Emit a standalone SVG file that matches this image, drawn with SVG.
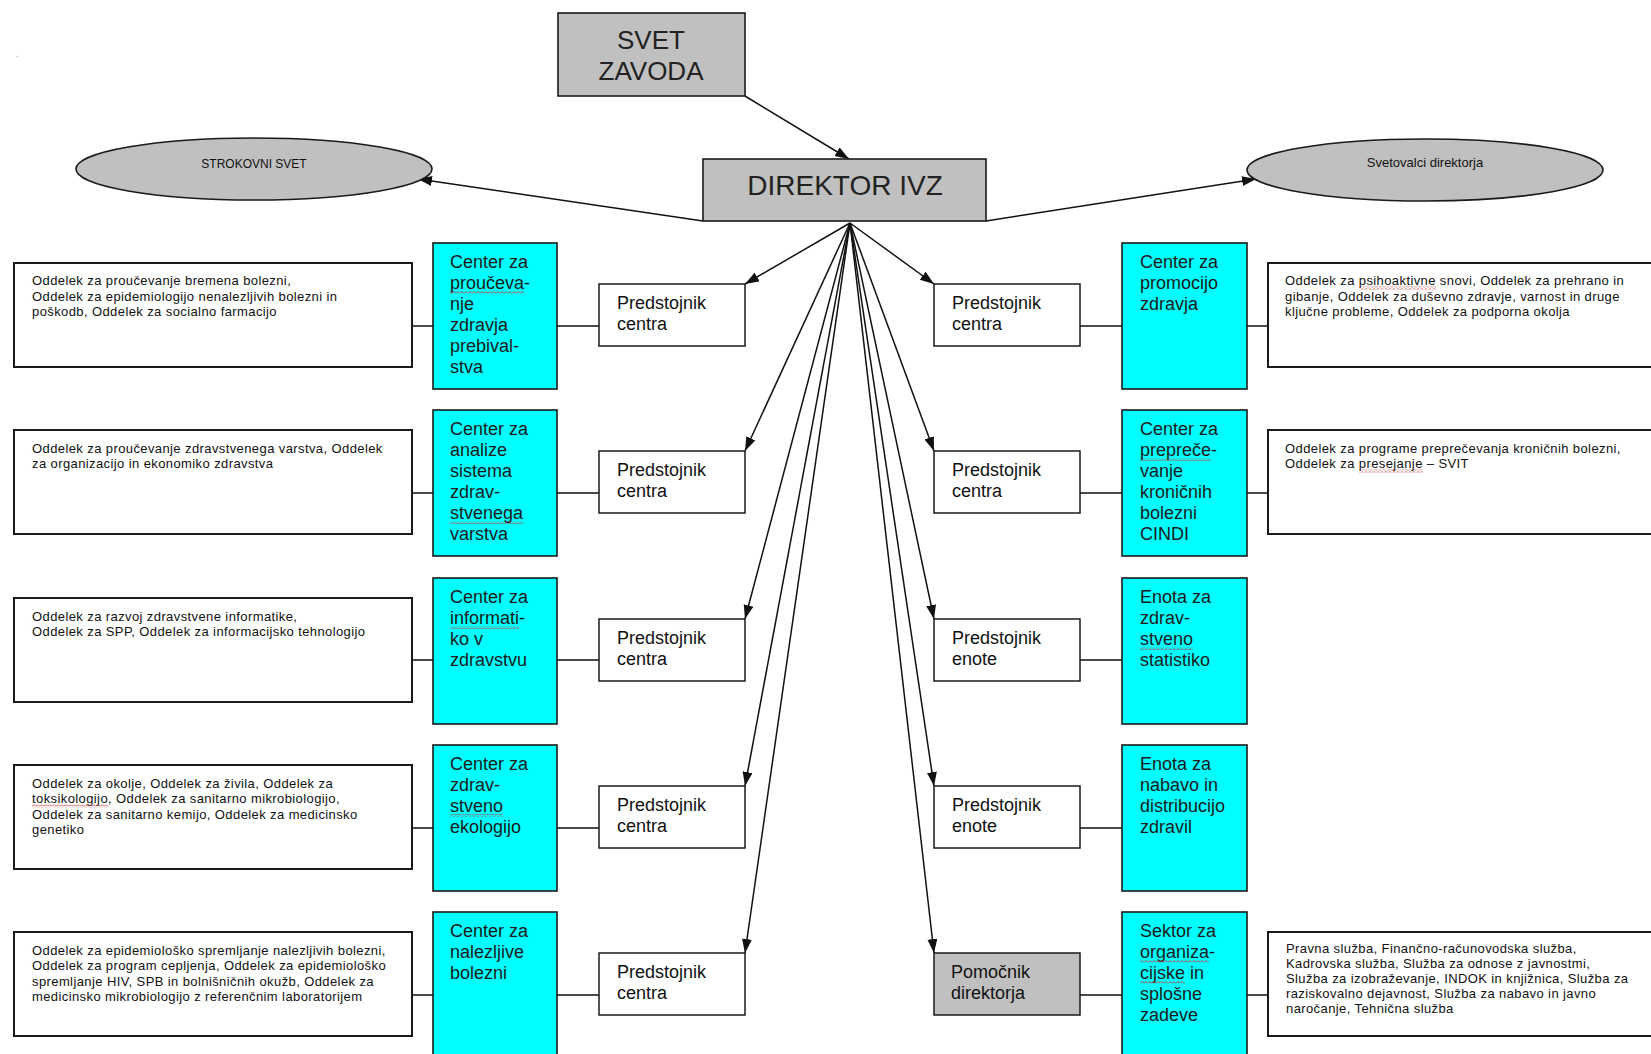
<svg xmlns="http://www.w3.org/2000/svg" width="1651" height="1054" viewBox="0 0 1651 1054">
<style>
  text { font-family: "Liberation Sans", Arial, sans-serif; }
  .gray { fill: #c0c0c0; stroke: #1a1a1a; stroke-width: 1.6; }
  .cyan { fill: #00ffff; stroke: #1a1a1a; stroke-width: 1.6; }
  .pbox { fill: #ffffff; stroke: #1a1a1a; stroke-width: 1.5; }
  .tbox { fill: #ffffff; stroke: #1a1a1a; stroke-width: 2; }
  .ct { font-size: 18px; fill: #1a1a1a; }
  .pt { font-size: 18px; fill: #111111; }
  .st { font-size: 13px; fill: #111111; letter-spacing: 0.4px; }
  .conn { stroke: #111111; stroke-width: 1.5; fill: none; }
  .arrow { stroke: #111111; stroke-width: 1.5; fill: none; marker-end: url(#ah); }
</style>
<defs>
  <marker id="ah" markerUnits="userSpaceOnUse" markerWidth="14" markerHeight="12" refX="14" refY="5" orient="auto">
    <path d="M0,0 L14,5 L0,10 z" fill="#111111"/>
  </marker>
  <pattern id="squig" patternUnits="userSpaceOnUse" width="4" height="3">
    <path d="M0,2.5 L2,0.5 L4,2.5" stroke="#d03030" stroke-width="0.9" fill="none"/>
  </pattern>
</defs>
<rect width="1651" height="1054" fill="#ffffff"/>
<text x="16" y="57" style="font-size:10px;fill:#999999">.</text>

<g id="connectors">
  <line class="arrow" x1="745" y1="96" x2="849" y2="159"/>
  <line class="arrow" x1="703" y1="221" x2="418" y2="179"/>
  <line class="arrow" x1="986" y1="221" x2="1256" y2="179"/>
  <line class="arrow" x1="850" y1="223" x2="745" y2="284"/>
  <line class="arrow" x1="850" y1="223" x2="745" y2="451"/>
  <line class="arrow" x1="850" y1="223" x2="745" y2="619"/>
  <line class="arrow" x1="850" y1="223" x2="745" y2="786"/>
  <line class="arrow" x1="850" y1="223" x2="745" y2="953"/>
  <line class="arrow" x1="850" y1="223" x2="934" y2="284"/>
  <line class="arrow" x1="850" y1="223" x2="934" y2="451"/>
  <line class="arrow" x1="850" y1="223" x2="934" y2="619"/>
  <line class="arrow" x1="850" y1="223" x2="934" y2="786"/>
  <line class="arrow" x1="850" y1="223" x2="934" y2="953"/>
  <path class="conn" d="M412,326 H433 M557,326 H599 M412,493 H433 M557,493 H599 M412,660 H433 M557,660 H599 M412,828 H433 M557,828 H599 M412,995 H433 M557,995 H599"/>
  <path class="conn" d="M1080,326 H1122 M1247,326 H1268 M1080,493 H1122 M1247,493 H1268 M1080,660 H1122 M1080,828 H1122 M1080,995 H1122 M1247,995 H1268"/>
</g>

<g id="svet-zavoda">
  <rect class="gray" x="558" y="13" width="187" height="83"/>
  <text x="651" y="49" text-anchor="middle" style="font-size:26px;fill:#222">SVET</text>
  <text x="651" y="80" text-anchor="middle" style="font-size:26px;fill:#222">ZAVODA</text>
</g>
<g id="direktor">
  <rect class="gray" x="703" y="159" width="283" height="62"/>
  <text x="845" y="195" text-anchor="middle" style="font-size:28px;fill:#222">DIREKTOR IVZ</text>
</g>
<g id="strokovni-svet">
  <ellipse class="gray" cx="254" cy="169" rx="178" ry="31"/>
  <text x="254" y="168" text-anchor="middle" style="font-size:12px;fill:#111">STROKOVNI SVET</text>
</g>
<g id="svetovalci">
  <ellipse class="gray" cx="1425" cy="170" rx="178" ry="31"/>
  <text x="1425" y="167" text-anchor="middle" style="font-size:13px;fill:#111">Svetovalci direktorja</text>
</g>

<!-- Left column -->
<g id="l1-oddelki">
  <rect class="tbox" x="14" y="263" width="398" height="104"/>
  <text class="st" x="32" y="285">Oddelek za proučevanje bremena bolezni,</text>
  <text class="st" x="32" y="300.5">Oddelek za epidemiologijo nenalezljivih bolezni in</text>
  <text class="st" x="32" y="316">poškodb, Oddelek za socialno farmacijo</text>
</g>
<g id="l1-center">
  <rect class="cyan" x="433" y="243" width="124" height="146"/>
  <text class="ct" x="450" y="268">Center za</text>
  <text class="ct" x="450" y="289">proučeva-</text>
  <text class="ct" x="450" y="310">nje</text>
  <text class="ct" x="450" y="331">zdravja</text>
  <text class="ct" x="450" y="352">prebival-</text>
  <text class="ct" x="450" y="373">stva</text>
</g>
<g id="l1-predstojnik">
  <rect class="pbox" x="599" y="284" width="146" height="62"/>
  <text class="pt" x="617" y="309">Predstojnik</text>
  <text class="pt" x="617" y="330">centra</text>
</g>

<g id="l2-oddelki">
  <rect class="tbox" x="14" y="430" width="398" height="104"/>
  <text class="st" x="32" y="452.5">Oddelek za proučevanje zdravstvenega varstva, Oddelek</text>
  <text class="st" x="32" y="468">za organizacijo in ekonomiko zdravstva</text>
</g>
<g id="l2-center">
  <rect class="cyan" x="433" y="410" width="124" height="146"/>
  <text class="ct" x="450" y="435">Center za</text>
  <text class="ct" x="450" y="456">analize</text>
  <text class="ct" x="450" y="477">sistema</text>
  <text class="ct" x="450" y="498">zdrav-</text>
  <text class="ct" x="450" y="519">stvenega</text>
  <text class="ct" x="450" y="540">varstva</text>
</g>
<g id="l2-predstojnik">
  <rect class="pbox" x="599" y="451" width="146" height="62"/>
  <text class="pt" x="617" y="476">Predstojnik</text>
  <text class="pt" x="617" y="497">centra</text>
</g>

<g id="l3-oddelki">
  <rect class="tbox" x="14" y="598" width="398" height="104"/>
  <text class="st" x="32" y="620.5">Oddelek za razvoj zdravstvene informatike,</text>
  <text class="st" x="32" y="636">Oddelek za SPP, Oddelek za informacijsko tehnologijo</text>
</g>
<g id="l3-center">
  <rect class="cyan" x="433" y="578" width="124" height="146"/>
  <text class="ct" x="450" y="603">Center za</text>
  <text class="ct" x="450" y="624">informati-</text>
  <text class="ct" x="450" y="645">ko v</text>
  <text class="ct" x="450" y="666">zdravstvu</text>
</g>
<g id="l3-predstojnik">
  <rect class="pbox" x="599" y="619" width="146" height="62"/>
  <text class="pt" x="617" y="644">Predstojnik</text>
  <text class="pt" x="617" y="665">centra</text>
</g>

<g id="l4-oddelki">
  <rect class="tbox" x="14" y="765" width="398" height="104"/>
  <text class="st" x="32" y="787.5">Oddelek za okolje, Oddelek za živila, Oddelek za</text>
  <text class="st" x="32" y="803">toksikologijo, Oddelek za sanitarno mikrobiologijo,</text>
  <text class="st" x="32" y="818.5">Oddelek za sanitarno kemijo, Oddelek za medicinsko</text>
  <text class="st" x="32" y="834">genetiko</text>
</g>
<g id="l4-center">
  <rect class="cyan" x="433" y="745" width="124" height="146"/>
  <text class="ct" x="450" y="770">Center za</text>
  <text class="ct" x="450" y="791">zdrav-</text>
  <text class="ct" x="450" y="812">stveno</text>
  <text class="ct" x="450" y="833">ekologijo</text>
</g>
<g id="l4-predstojnik">
  <rect class="pbox" x="599" y="786" width="146" height="62"/>
  <text class="pt" x="617" y="811">Predstojnik</text>
  <text class="pt" x="617" y="832">centra</text>
</g>

<g id="l5-oddelki">
  <rect class="tbox" x="14" y="932" width="398" height="104"/>
  <text class="st" x="32" y="954.5">Oddelek za epidemiološko spremljanje nalezljivih bolezni,</text>
  <text class="st" x="32" y="970">Oddelek za program cepljenja, Oddelek za epidemiološko</text>
  <text class="st" x="32" y="985.5">spremljanje HIV, SPB in bolnišničnih okužb, Oddelek za</text>
  <text class="st" x="32" y="1001">medicinsko mikrobiologijo z referenčnim laboratorijem</text>
</g>
<g id="l5-center">
  <rect class="cyan" x="433" y="912" width="124" height="150"/>
  <text class="ct" x="450" y="937">Center za</text>
  <text class="ct" x="450" y="958">nalezljive</text>
  <text class="ct" x="450" y="979">bolezni</text>
</g>
<g id="l5-predstojnik">
  <rect class="pbox" x="599" y="953" width="146" height="62"/>
  <text class="pt" x="617" y="978">Predstojnik</text>
  <text class="pt" x="617" y="999">centra</text>
</g>

<!-- Right column -->
<g id="r1-predstojnik">
  <rect class="pbox" x="934" y="284" width="146" height="62"/>
  <text class="pt" x="952" y="309">Predstojnik</text>
  <text class="pt" x="952" y="330">centra</text>
</g>
<g id="r1-center">
  <rect class="cyan" x="1122" y="243" width="125" height="146"/>
  <text class="ct" x="1140" y="268">Center za</text>
  <text class="ct" x="1140" y="289">promocijo</text>
  <text class="ct" x="1140" y="310">zdravja</text>
</g>
<g id="r1-oddelki">
  <rect class="tbox" x="1268" y="263" width="400" height="104"/>
  <text class="st" x="1285" y="285">Oddelek za psihoaktivne snovi, Oddelek za prehrano in</text>
  <text class="st" x="1285" y="300.5">gibanje, Oddelek za duševno zdravje, varnost in druge</text>
  <text class="st" x="1285" y="316">ključne probleme, Oddelek za podporna okolja</text>
</g>

<g id="r2-predstojnik">
  <rect class="pbox" x="934" y="451" width="146" height="62"/>
  <text class="pt" x="952" y="476">Predstojnik</text>
  <text class="pt" x="952" y="497">centra</text>
</g>
<g id="r2-center">
  <rect class="cyan" x="1122" y="410" width="125" height="146"/>
  <text class="ct" x="1140" y="435">Center za</text>
  <text class="ct" x="1140" y="456">prepreče-</text>
  <text class="ct" x="1140" y="477">vanje</text>
  <text class="ct" x="1140" y="498">kroničnih</text>
  <text class="ct" x="1140" y="519">bolezni</text>
  <text class="ct" x="1140" y="540">CINDI</text>
</g>
<g id="r2-oddelki">
  <rect class="tbox" x="1268" y="430" width="400" height="104"/>
  <text class="st" x="1285" y="452.5">Oddelek za programe preprečevanja kroničnih bolezni,</text>
  <text class="st" x="1285" y="468">Oddelek za presejanje – SVIT</text>
</g>

<g id="r3-predstojnik">
  <rect class="pbox" x="934" y="619" width="146" height="62"/>
  <text class="pt" x="952" y="644">Predstojnik</text>
  <text class="pt" x="952" y="665">enote</text>
</g>
<g id="r3-enota">
  <rect class="cyan" x="1122" y="578" width="125" height="146"/>
  <text class="ct" x="1140" y="603">Enota za</text>
  <text class="ct" x="1140" y="624">zdrav-</text>
  <text class="ct" x="1140" y="645">stveno</text>
  <text class="ct" x="1140" y="666">statistiko</text>
</g>

<g id="r4-predstojnik">
  <rect class="pbox" x="934" y="786" width="146" height="62"/>
  <text class="pt" x="952" y="811">Predstojnik</text>
  <text class="pt" x="952" y="832">enote</text>
</g>
<g id="r4-enota">
  <rect class="cyan" x="1122" y="745" width="125" height="146"/>
  <text class="ct" x="1140" y="770">Enota za</text>
  <text class="ct" x="1140" y="791">nabavo in</text>
  <text class="ct" x="1140" y="812">distribucijo</text>
  <text class="ct" x="1140" y="833">zdravil</text>
</g>

<g id="r5-pomocnik">
  <rect class="gray" x="934" y="953" width="146" height="62" style="stroke-width:1.5"/>
  <text class="pt" x="951" y="978">Pomočnik</text>
  <text class="pt" x="951" y="999">direktorja</text>
</g>
<g id="r5-sektor">
  <rect class="cyan" x="1122" y="912" width="125" height="150"/>
  <text class="ct" x="1140" y="937">Sektor za</text>
  <text class="ct" x="1140" y="958">organiza-</text>
  <text class="ct" x="1140" y="979">cijske in</text>
  <text class="ct" x="1140" y="1000">splošne</text>
  <text class="ct" x="1140" y="1021">zadeve</text>
</g>
<g id="r5-sluzbe">
  <rect class="tbox" x="1268" y="932" width="400" height="104"/>
  <text class="st" x="1286" y="953">Pravna služba, Finančno-računovodska služba,</text>
  <text class="st" x="1286" y="968">Kadrovska služba, Služba za odnose z javnostmi,</text>
  <text class="st" x="1286" y="983">Služba za izobraževanje, INDOK in knjižnica, Služba za</text>
  <text class="st" x="1286" y="998">raziskovalno dejavnost, Služba za nabavo in javno</text>
  <text class="st" x="1286" y="1013">naročanje, Tehnična služba</text>
</g>

<g id="spellcheck-marks" fill="url(#squig)">
  <rect x="450" y="291" width="74" height="3"/>
  <rect x="450" y="521" width="73" height="3"/>
  <rect x="450" y="626" width="69" height="3"/>
  <rect x="450" y="814" width="53" height="3"/>
  <rect x="32" y="804.5" width="76" height="3"/>
  <rect x="1359" y="286.5" width="77" height="3"/>
  <rect x="1359" y="469.5" width="64" height="3"/>
  <rect x="1140" y="458" width="71" height="3"/>
  <rect x="1140" y="647" width="53" height="3"/>
  <rect x="1140" y="960" width="69" height="3"/>
  <rect x="1140" y="981" width="45" height="3"/>
</g>
</svg>
